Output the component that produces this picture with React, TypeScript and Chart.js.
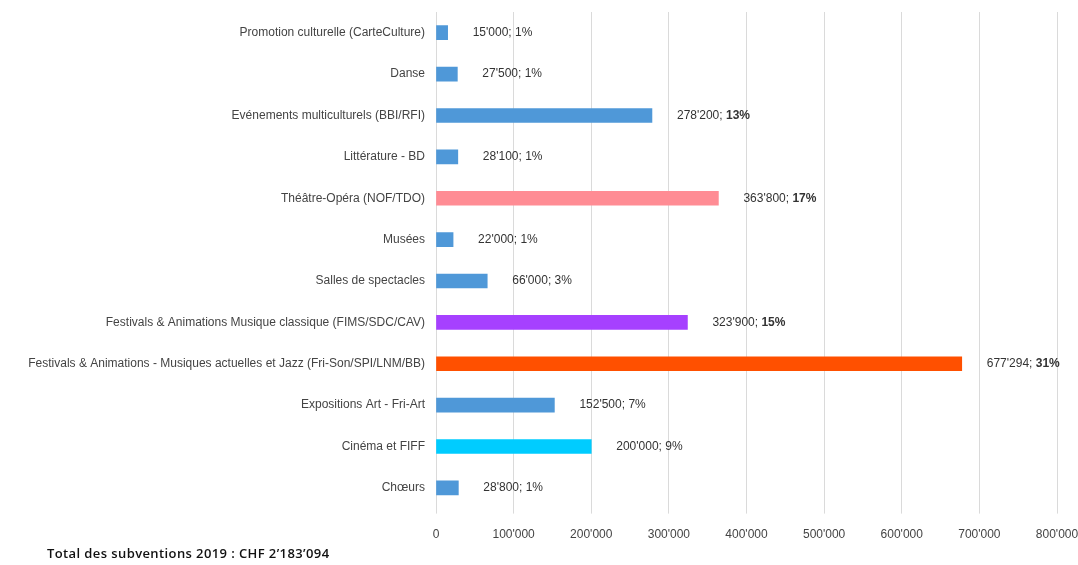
import React, { useEffect, useRef } from "react";
import { Chart, registerables } from "chart.js";

Chart.register(...registerables);

const categories = [
  "Promotion culturelle (CarteCulture)",
  "Danse",
  "Evénements multiculturels (BBI/RFI)",
  "Littérature - BD",
  "Théâtre-Opéra (NOF/TDO)",
  "Musées",
  "Salles de spectacles",
  "Festivals & Animations Musique classique (FIMS/SDC/CAV)",
  "Festivals & Animations - Musiques actuelles et Jazz (Fri-Son/SPI/LNM/BB)",
  "Expositions Art - Fri-Art",
  "Cinéma et FIFF",
  "Chœurs",
];

const amounts = [15000, 27500, 278200, 28100, 363800, 22000, 66000, 323900, 677294, 152500, 200000, 28800];
const valueLabels = ["15'000", "27'500", "278'200", "28'100", "363'800", "22'000", "66'000", "323'900", "677'294", "152'500", "200'000", "28'800"];
const percents = [1, 1, 13, 1, 17, 1, 3, 15, 31, 7, 9, 1];

const BLUE = "#4f98d8";
const barColors = [BLUE, BLUE, BLUE, BLUE, "#ff8c94", BLUE, BLUE, "#a640ff", "#ff5000", BLUE, "#00ccff", BLUE];

const xTickLabels: Record<number, string> = {
  0: "0",
  100000: "100'000",
  200000: "200'000",
  300000: "300'000",
  400000: "400'000",
  500000: "500'000",
  600000: "600'000",
  700000: "700'000",
  800000: "800'000",
};

const footerText = "Total des subventions 2019 : CHF 2’183’094";

const FONT = "'Liberation Sans', Arial, sans-serif";

const labelPlugin = {
  id: "barValueLabels",
  afterDatasetsDraw(chart: any) {
    const ctx = chart.ctx;
    const meta = chart.getDatasetMeta(0);
    const xScale = chart.scales.x;
    ctx.save();
    ctx.textBaseline = "middle";
    ctx.textAlign = "left";
    meta.data.forEach((bar: any, i: number) => {
      const x = xScale.getPixelForValue(amounts[i]) + 25;
      const y = bar.y;
      const first = valueLabels[i] + "; ";
      const second = percents[i] + "%";
      ctx.font = `12px ${FONT}`;
      ctx.fillStyle = "#333333";
      ctx.fillText(first, x, y);
      const w = ctx.measureText(first).width;
      ctx.font = `${percents[i] >= 10 ? "bold " : ""}12px ${FONT}`;
      ctx.fillText(second, x + w, y);
    });
    ctx.restore();
  },
};

export default function App() {
  const canvasRef = useRef<HTMLCanvasElement | null>(null);

  useEffect(() => {
    if (!canvasRef.current) return;
    const chart = new Chart(canvasRef.current, {
      type: "bar",
      data: {
        labels: categories,
        datasets: [
          {
            data: amounts,
            backgroundColor: barColors,
            borderWidth: 0,
            barThickness: 14,
          },
        ],
      },
      options: {
        indexAxis: "y",
        animation: false,
        responsive: false,
        maintainAspectRatio: false,
        layout: { padding: { top: 12, right: 21, bottom: 9, left: 0 } },
        plugins: {
          legend: { display: false },
          tooltip: { enabled: false },
        },
        scales: {
          x: {
            min: 0,
            max: 800000,
            border: { display: false },
            grid: { color: "#dadada", lineWidth: 1, tickLength: 5, drawTicks: true, tickColor: "#dadada" },
            ticks: {
              stepSize: 100000,
              padding: 14,
              color: "#444444",
              font: { family: FONT, size: 12 },
              maxRotation: 0,
              autoSkip: false,
              callback: (v: any) => xTickLabels[Number(v)] ?? String(v),
            },
            afterFit: (scale: any) => {
              scale.paddingRight = 0;
              scale.paddingLeft = 0;
            },
          },
          y: {
            border: { display: false },
            grid: { display: false },
            ticks: {
              padding: 3,
              color: "#444444",
              font: { family: FONT, size: 12 },
              autoSkip: false,
            },
            afterFit: (scale: any) => {
              scale.width = 436;
              scale.paddingTop = 0;
              scale.paddingBottom = 0;
            },
          },
        },
      },
      plugins: [labelPlugin],
    });
    return () => chart.destroy();
  }, []);

  return (
    <div style={{ position: "absolute", left: 0, top: 0, width: 1078, height: 565, background: "#fff", overflow: "hidden" }}>
      <canvas ref={canvasRef} width={1078} height={565} style={{ position: "absolute", left: 0, top: 0 }} />
      <div
        style={{
          position: "absolute",
          left: 47,
          top: 545,
          fontFamily: "'Open Sans', sans-serif",
          fontWeight: 600,
          fontSize: 13,
          letterSpacing: "0.4px",
          lineHeight: "16px",
          color: "#111",
          whiteSpace: "nowrap",
        }}
      >
        {footerText}
      </div>
    </div>
  );
}
